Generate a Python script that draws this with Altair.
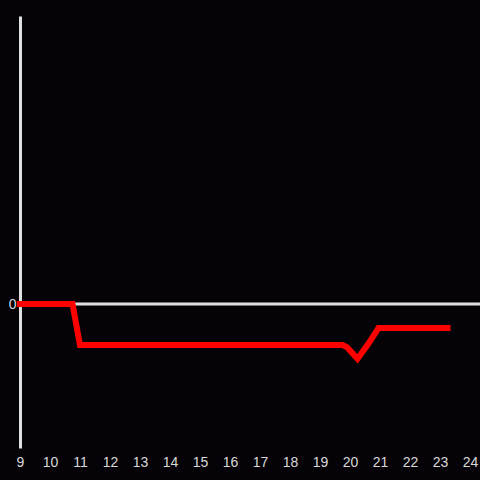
import altair as alt
import pandas as pd
import jinja2

hours = [9, 10.75, 11, 19.75, 19.9, 20.25, 20.6, 20.95, 23.25]
values = [0, 0, -0.285, -0.285, -0.30, -0.38, -0.28, -0.167, -0.167]
x_ticks = list(range(9, 25))

df = pd.DataFrame({"hour": hours, "value": values})
zero = pd.DataFrame({"y": [0]})

BG = "#050308"

xscale = alt.Scale(domain=[9, 24], nice=False, zero=False)
yscale = alt.Scale(domain=[-1, 2], nice=False)

line = alt.Chart(df).mark_line(
    color="#ff0000", strokeWidth=6, strokeCap="square", clip=False
).encode(
    x=alt.X("hour:Q", scale=xscale,
            axis=alt.Axis(values=x_ticks, domain=False, ticks=False, grid=False,
                          title=None, labelColor="#d8d8d8", labelFontSize=14,
                          labelFont="Liberation Sans", labelPadding=7,
                          labelFlush=False, format="d")),
    y=alt.Y("value:Q", scale=yscale,
            axis=alt.Axis(values=[0], domain=True, domainColor="#e0e0e0",
                          domainWidth=3, ticks=False, grid=False, title=None,
                          labelColor="#d8d8d8", labelFontSize=14,
                          labelFont="Liberation Sans", labelPadding=4,
                          format="d")),
)

rule = alt.Chart(zero).mark_rule(color="#e0e0e0", strokeWidth=3, clip=False).encode(
    y=alt.Y("y:Q", scale=yscale),
    x=alt.value(0),
    x2=alt.value(460),
)

chart = alt.layer(rule, line).properties(
    width=450, height=432,
    background=BG,
    padding={"left": 20, "top": 16, "right": 10, "bottom": 32},
    autosize=alt.AutoSizeParams(type="none"),
).configure_view(stroke=None)

TEMPLATE = jinja2.Template("""<!DOCTYPE html>
<html>
<head>
  <style>
    html, body { margin: 0; padding: 0; background: """ + BG + """; overflow: hidden; }
    .error { color: red; }
  </style>
  <script type="text/javascript" src="{{ base_url }}/vega@{{ vega_version }}"></script>
  <script type="text/javascript" src="{{ base_url }}/vega-lite@{{ vegalite_version }}"></script>
  <script type="text/javascript" src="{{ base_url }}/vega-embed@{{ vegaembed_version }}"></script>
</head>
<body>
  <div id="{{ output_div }}"></div>
  <script>
    (function(vegaEmbed) {
      var spec = {{ spec }};
      var embedOpt = {{ embed_options }};
      function showError(el, error){
          el.innerHTML = ('<div class="error" style="color:red;">'
                          + '<p>JavaScript Error: ' + error.message + '</p>'
                          + "</div>");
          throw error;
      }
      const el = document.getElementById('{{ output_div }}');
      vegaEmbed("#{{ output_div }}", spec, embedOpt)
        .catch(error => showError(el, error));
    })(vegaEmbed);
  </script>
</body>
</html>
""")

chart.save("out.html", embed_options={"renderer": "svg", "actions": False}, template=TEMPLATE)
